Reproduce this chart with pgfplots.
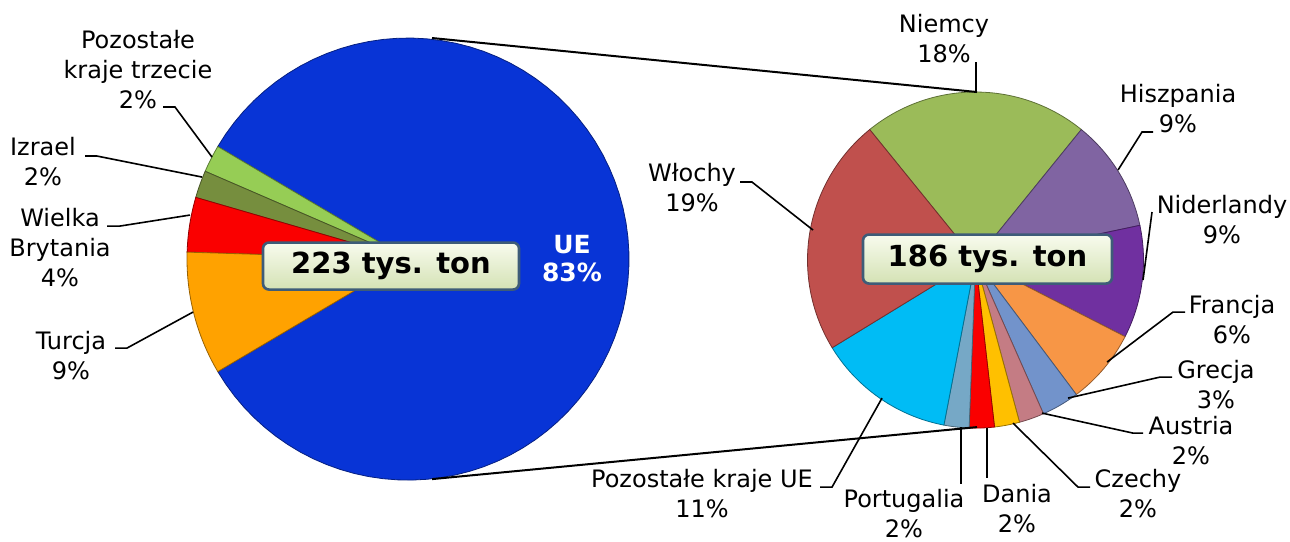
\documentclass[border=0pt]{standalone}
\usepackage{fontspec}
\setmainfont{DejaVu Sans}
\usepackage{pgfplots}
\usepackage{pgfplotstable}
\pgfplotsset{compat=1.18}
\definecolor{ue}{RGB}{8,52,214}
\definecolor{pkt}{RGB}{150,205,85}
\definecolor{izr}{RGB}{118,142,62}
\definecolor{wb}{RGB}{250,0,0}
\definecolor{tur}{RGB}{255,162,0}
\definecolor{nie}{RGB}{155,187,89}
\definecolor{his}{RGB}{128,100,162}
\definecolor{nid}{RGB}{112,48,160}
\definecolor{fra}{RGB}{247,150,70}
\definecolor{gre}{RGB}{114,147,203}
\definecolor{aus}{RGB}{196,124,132}
\definecolor{cze}{RGB}{255,192,0}
\definecolor{dan}{RGB}{250,0,0}
\definecolor{por}{RGB}{118,168,198}
\definecolor{pue}{RGB}{0,188,245}
\definecolor{wlo}{RGB}{192,80,77}
\definecolor{boxborder}{RGB}{62,92,120}
\tikzset{lbl/.style={font=\fontsize{12}{15}\selectfont, align=center, inner sep=0pt},
  ldr/.style={line width=0.8pt}}
% primary pie: share of total (%)
\pgfplotstableread{
pct col
83 ue
2 pkt
2 izr
4 wb
9 tur
}\lefttab
% secondary pie: EU countries, share of total (%)
\pgfplotstableread{
pct col
18 nie
9 his
9 nid
6 fra
3 gre
2 aus
2 cze
2 dan
2 por
11 pue
19 wlo
}\righttab
\begin{document}
\begin{tikzpicture}
\begin{axis}[name=ax, scale only axis, width=645pt, height=270.5pt,
  xmin=0, xmax=1290, ymin=0, ymax=541, y dir=reverse,
  hide axis, clip=false]
% ---- primary pie (counter-clockwise from -149.4 deg)
\pgfmathsetmacro\ang{-149.4}
\pgfplotsforeachungrouped \i in {0,...,4}{%
  \pgfplotstablegetelem{\i}{pct}\of\lefttab \let\p\pgfplotsretval
  \pgfplotstablegetelem{\i}{col}\of\lefttab \let\c\pgfplotsretval
  \pgfmathsetmacro\angb{\ang+3.6*\p}%
  \edef\temp{\noexpand\addplot[draw=\c!60!black, line width=0.4pt, fill=\c, domain=\ang:\angb, samples=80]
    ({408+221*cos(x)},{259-221*sin(x)}) -- (axis cs:408,259) -- cycle;}%
  \temp
  \global\let\ang\angb
}
% ---- secondary pie (clockwise, Niemcy centred at top)
\pgfmathsetmacro\ang{90+9*360/83}
\pgfplotsforeachungrouped \i in {0,...,10}{%
  \pgfplotstablegetelem{\i}{pct}\of\righttab \let\p\pgfplotsretval
  \pgfplotstablegetelem{\i}{col}\of\righttab \let\c\pgfplotsretval
  \pgfmathsetmacro\angb{\ang-360/83*\p}%
  \edef\temp{\noexpand\addplot[draw=\c!60!black, line width=0.4pt, fill=\c, domain=\angb:\ang, samples=60]
    ({975.5+168*cos(x)},{260-168*sin(x)}) -- (axis cs:975.5,260) -- cycle;}%
  \temp
  \global\let\ang\angb
}
% ---- connector lines
\draw[line width=1pt] (axis cs:432,38) -- (axis cs:977,92);
\draw[line width=1pt] (axis cs:432,479) -- (axis cs:977,427);
% ---- total boxes
\node[draw=boxborder, line width=1.3pt, rounded corners=3pt, top color={rgb,255:red,248;green,251;blue,238}, bottom color={rgb,255:red,212;green,226;blue,180}, minimum width=128pt, minimum height=23.5pt, inner sep=0pt, font=\fontsize{14.5}{17}\selectfont\bfseries] at (axis cs:391,266) {223 tys. ton};
\node[draw=boxborder, line width=1.3pt, rounded corners=3pt, top color={rgb,255:red,248;green,251;blue,238}, bottom color={rgb,255:red,212;green,226;blue,180}, minimum width=124.5pt, minimum height=24.5pt, inner sep=0pt, font=\fontsize{14.5}{17}\selectfont\bfseries] at (axis cs:987.5,259) {186 tys. ton};
\node[text=white, align=center, inner sep=0pt, font=\fontsize{12.5}{14}\selectfont\bfseries] at (axis cs:572,259) {UE\\83\%};
% ---- primary labels
\node[lbl] at (axis cs:138,70) {Pozostałe\\kraje trzecie\\2\%};
\draw[ldr] (axis cs:163,107) -- (axis cs:175,107) -- (axis cs:212,157);
\node[lbl] at (axis cs:43,162) {Izrael\\2\%};
\draw[ldr] (axis cs:85,156) -- (axis cs:97,156) -- (axis cs:202,177);
\node[lbl] at (axis cs:60,247) {Wielka\\Brytania\\4\%};
\draw[ldr] (axis cs:107,226) -- (axis cs:120,226) -- (axis cs:190,215);
\node[lbl] at (axis cs:71,355) {Turcja\\9\%};
\draw[ldr] (axis cs:115,348) -- (axis cs:127,348) -- (axis cs:193,312);
% ---- secondary labels
\node[lbl] at (axis cs:944,39) {Niemcy\\18\%};
\draw[ldr] (axis cs:976,62) -- (axis cs:976,92);
\node[lbl] at (axis cs:1178,109) {Hiszpania\\9\%};
\draw[ldr] (axis cs:1153,132) -- (axis cs:1142,132) -- (axis cs:1118,170);
\node[lbl] at (axis cs:1222,219) {Niderlandy\\9\%};
\draw[ldr] (axis cs:1152,212) -- (axis cs:1143,280);
\node[lbl] at (axis cs:1232,319) {Francja\\6\%};
\draw[ldr] (axis cs:1185,312) -- (axis cs:1173,312) -- (axis cs:1107,362);
\node[lbl] at (axis cs:1216,384) {Grecja\\3\%};
\draw[ldr] (axis cs:1172,377) -- (axis cs:1160,377) -- (axis cs:1068,398);
\node[lbl] at (axis cs:1191,440) {Austria\\2\%};
\draw[ldr] (axis cs:1143,433) -- (axis cs:1133,433) -- (axis cs:1042,413);
\node[lbl] at (axis cs:1138,493) {Czechy\\2\%};
\draw[ldr] (axis cs:1090,487) -- (axis cs:1078,487) -- (axis cs:1013,423);
\node[lbl] at (axis cs:1017,508) {Dania\\2\%};
\draw[ldr] (axis cs:987,428) -- (axis cs:987,478);
\node[lbl] at (axis cs:904,513) {Portugalia\\2\%};
\draw[ldr] (axis cs:961,427) -- (axis cs:961,484);
\node[lbl] at (axis cs:702,493) {Pozostałe kraje UE\\11\%};
\draw[ldr] (axis cs:820,487) -- (axis cs:832,487) -- (axis cs:882,398);
\node[lbl] at (axis cs:692,188) {Włochy\\19\%};
\draw[ldr] (axis cs:740,182) -- (axis cs:752,182) -- (axis cs:813,230);
\end{axis}
\pgfresetboundingbox
\path[use as bounding box] (ax.south west) rectangle (ax.north east);
\end{tikzpicture}
\end{document}
